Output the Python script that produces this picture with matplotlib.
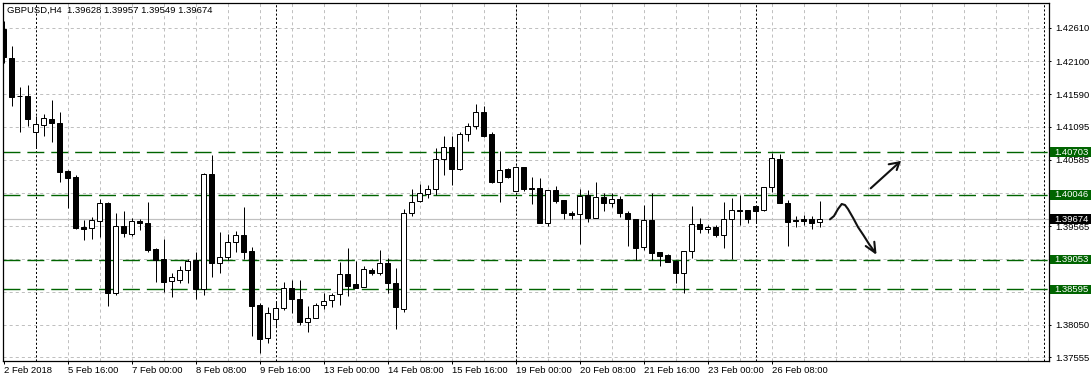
import matplotlib
matplotlib.use("Agg")
import matplotlib.pyplot as plt
import matplotlib.transforms as mtransforms
from matplotlib.patches import Rectangle

plt.rcParams['font.family'] = ['Liberation Sans', 'DejaVu Sans']
plt.rcParams['lines.scale_dashes'] = False

# ---------------- data (GBPUSD, H4) ----------------
opens = [1.42594, 1.42153, 1.41565, 1.41565, 1.41016, 1.41115, 1.41212, 1.41155, 1.40413, 1.40325,
         1.39552, 1.39532, 1.39649, 1.39926, 1.38533, 1.39568, 1.39440, 1.39644, 1.39618, 1.39214,
         1.39061, 1.38722, 1.38738, 1.38891, 1.39045, 1.38595, 1.40367, 1.38994, 1.39087, 1.39317,
         1.39429, 1.39183, 1.38349, 1.37842, 1.38134, 1.38303, 1.38610, 1.38446, 1.38097, 1.38149,
         1.38349, 1.38431, 1.38518, 1.38825, 1.38676, 1.38626, 1.38891, 1.38841, 1.38994, 1.38687,
         1.38288, 1.39763, 1.39952, 1.40055, 1.40131, 1.40592, 1.40777, 1.40448, 1.40981, 1.41104,
         1.41315, 1.40981, 1.40248, 1.40439, 1.40110, 1.40479, 1.40147, 1.40147, 1.39618, 1.40121,
         1.39967, 1.39763, 1.39747, 1.40039, 1.39695, 1.40009, 1.39926, 1.39978, 1.39763, 1.39671,
         1.39240, 1.39660, 1.39163, 1.39117, 1.39034, 1.38850, 1.39188, 1.39594, 1.39517, 1.39548,
         1.39425, 1.39671, 1.39809, 1.39809, 1.39870, 1.39809, 1.40171, 1.40592, 1.39916, 1.39660,
         1.39671, 1.39671, 1.39628]
highs = [1.42717, 1.42338, 1.41699, 1.41734, 1.41258, 1.41288, 1.41504, 1.41315, 1.40428, 1.40351,
         1.39660, 1.39710, 1.39982, 1.39941, 1.39763, 1.39798, 1.39686, 1.39671, 1.39941, 1.39225,
         1.39368, 1.38841, 1.38953, 1.39061, 1.39173, 1.40377, 1.40658, 1.39480, 1.39445, 1.39491,
         1.39855, 1.39250, 1.38389, 1.38328, 1.38395, 1.38712, 1.38738, 1.38738, 1.38338, 1.38389,
         1.38533, 1.38533, 1.39019, 1.39225, 1.39034, 1.38953, 1.38918, 1.39199, 1.39071, 1.38918,
         1.39824, 1.40136, 1.40213, 1.40198, 1.40761, 1.40950, 1.40950, 1.41016, 1.41146, 1.41442,
         1.41411, 1.41016, 1.40720, 1.40454, 1.40489, 1.40479, 1.40316, 1.40305, 1.40121, 1.40182,
         1.39967, 1.39803, 1.40131, 1.40121, 1.40248, 1.40070, 1.40070, 1.40029, 1.39798, 1.39680,
         1.39890, 1.40070, 1.39168, 1.39133, 1.39045, 1.39183, 1.39875, 1.39686, 1.39583, 1.39583,
         1.39932, 1.39993, 1.40044, 1.39809, 1.39870, 1.40171, 1.40685, 1.40674, 1.39967, 1.39721,
         1.39737, 1.39721, 1.39957]
lows = [1.42072, 1.41411, 1.41016, 1.41104, 1.40761, 1.40950, 1.40863, 1.40248, 1.39844, 1.39521,
        1.39352, 1.39363, 1.39394, 1.38338, 1.38507, 1.39394, 1.39414, 1.39506, 1.39173, 1.38712,
        1.38558, 1.38472, 1.38687, 1.38696, 1.38441, 1.38507, 1.38779, 1.38850, 1.39045, 1.39173,
        1.39061, 1.37882, 1.37621, 1.37765, 1.38020, 1.38277, 1.38226, 1.38046, 1.37943, 1.38149,
        1.38297, 1.38318, 1.38354, 1.38497, 1.38623, 1.38626, 1.38810, 1.38815, 1.38533, 1.37980,
        1.38251, 1.39721, 1.39941, 1.39993, 1.40044, 1.40351, 1.40198, 1.40428, 1.40878, 1.41053,
        1.40935, 1.40233, 1.39941, 1.40300, 1.40110, 1.40105, 1.39906, 1.39609, 1.39568, 1.39926,
        1.39675, 1.39671, 1.39291, 1.39634, 1.39686, 1.39803, 1.39855, 1.39710, 1.39265, 1.39045,
        1.39199, 1.39045, 1.38953, 1.39019, 1.38687, 1.38543, 1.39080, 1.39455, 1.39455, 1.39394,
        1.39225, 1.39056, 1.39583, 1.39609, 1.39618, 1.39798, 1.40095, 1.39916, 1.39260, 1.39548,
        1.39583, 1.39517, 1.39549]
closes = [1.42164, 1.41554, 1.41560, 1.41207, 1.41130, 1.41232, 1.41146, 1.40402, 1.40310, 1.39541,
          1.39526, 1.39660, 1.39916, 1.38543, 1.39568, 1.39465, 1.39644, 1.39609, 1.39199, 1.39045,
          1.38712, 1.38789, 1.38891, 1.39034, 1.38595, 1.40367, 1.38994, 1.39087, 1.39317, 1.39429,
          1.39173, 1.38338, 1.37836, 1.38226, 1.38303, 1.38610, 1.38441, 1.38097, 1.38149, 1.38349,
          1.38420, 1.38503, 1.38825, 1.38650, 1.38623, 1.38902, 1.38841, 1.38994, 1.38687, 1.38318,
          1.39763, 1.39941, 1.40070, 1.40131, 1.40592, 1.40777, 1.40448, 1.40981, 1.41104, 1.41315,
          1.40955, 1.40248, 1.40423, 1.40316, 1.40469, 1.40136, 1.40140, 1.39609, 1.40121, 1.39956,
          1.39763, 1.39741, 1.40029, 1.39695, 1.40009, 1.39926, 1.39978, 1.39763, 1.39671, 1.39234,
          1.39660, 1.39157, 1.39111, 1.39019, 1.38850, 1.39179, 1.39594, 1.39529, 1.39548, 1.39425,
          1.39671, 1.39809, 1.39805, 1.39671, 1.39793, 1.40171, 1.40608, 1.39916, 1.39634, 1.39640,
          1.39649, 1.39618, 1.39674]

xtick_bars = [0, 8, 16, 24, 32, 40, 48, 56, 64, 72, 80, 88, 96]
xtick_labels = ["2 Feb 2018", "5 Feb 16:00", "7 Feb 00:00", "8 Feb 08:00", "9 Feb 16:00",
                "13 Feb 00:00", "14 Feb 08:00", "15 Feb 16:00", "19 Feb 00:00", "20 Feb 08:00",
                "21 Feb 16:00", "23 Feb 00:00", "26 Feb 08:00"]
week_separators = [4, 34, 64, 94, 130]
ygrid_values = [1.42610, 1.42100, 1.41590, 1.41095, 1.40585, 1.40075, 1.39565, 1.39060,
                1.38560, 1.38050, 1.37555]
ytick_labels = ["1.42610", "1.42100", "1.41590", "1.41095", "1.40585", "", "1.39565", "",
                "", "1.38050", "1.37555"]
level_lines = [1.40703, 1.40046, 1.39053, 1.38595]
bid_price = 1.39674
header = "GBPUSD,H4  1.39628 1.39957 1.39549 1.39674"

# hand-drawn annotation strokes (bar index, price)
down_curve_x = [103.31, 103.81, 104.31, 104.78, 105.19, 105.56, 106.23, 106.81, 107.48, 108.19, 108.98]
down_curve_p = [1.39670, 1.39721, 1.39829, 1.39906, 1.39890, 1.39829, 1.39686, 1.39552, 1.39429, 1.39291, 1.39157]
down_head_x = [107.78, 108.98, 108.85]
down_head_p = [1.39260, 1.39157, 1.39326]
up_line_x = [108.40, 111.98]
up_line_p = [1.40147, 1.40546]
up_head_x = [110.65, 111.98, 111.65]
up_head_p = [1.40516, 1.40546, 1.40428]

# ---------------- figure ----------------
W, H = 1091, 382
fig = plt.figure(figsize=(W / 100, H / 100), dpi=100)
fig.patch.set_facecolor('white')
ax = fig.add_axes([3 / W, 21 / H, 1046 / W, 358 / H])
ax.set_facecolor('white')

ax.set_xlim(-0.0625, 130.6875)
ax.set_ylim(1.37494, 1.42994)

FS = 6.8
GRID = '#c0c0c0'
GREEN = '#006400'
px = 0.72  # one pixel in points

# grid
for v in ygrid_values:
    ax.axhline(v, color=GRID, lw=px, linestyle=(0, (2.2, 2.2)), zorder=0.5)
for b in range(8, 129, 4):
    ax.axvline(b, color=GRID, lw=px, linestyle=(0, (2.2, 2.2)), zorder=0.5)
for b in week_separators:
    ax.axvline(b, color='black', lw=px, linestyle=(0, (1.5, 1.5)), zorder=0.6)

# bid line and levels
ax.axhline(bid_price, color='#c0c0c0', lw=px * 1.2, zorder=0.8)
for v in level_lines:
    ax.axhline(v, color=GREEN, lw=1.0, linestyle=(0, (12.2, 5.0)), zorder=1)

# candles
for i, (o, h, l, c) in enumerate(zip(opens, highs, lows, closes)):
    ax.vlines(i, l, h, color='black', lw=px, zorder=3)
    bull = c > o
    ax.bar(i, abs(c - o), bottom=min(o, c), width=0.625,
           facecolor='white' if bull else 'black', edgecolor='black',
           linewidth=px, zorder=4)

# annotations
ax.plot(down_curve_x, down_curve_p, color='#111111', lw=1.5, solid_capstyle='round',
        solid_joinstyle='round', zorder=6)
ax.plot(down_head_x, down_head_p, color='#111111', lw=1.5, solid_capstyle='round',
        solid_joinstyle='miter', zorder=6)
ax.plot(up_line_x, up_line_p, color='#111111', lw=1.5, solid_capstyle='round', zorder=6)
ax.plot(up_head_x, up_head_p, color='#111111', lw=1.5, solid_capstyle='round',
        solid_joinstyle='miter', zorder=6)

# axes styling
for s in ax.spines.values():
    s.set_color('black')
    s.set_linewidth(0.9)
    s.set_zorder(7)

ax.yaxis.tick_right()
ax.set_yticks(ygrid_values)
ax.set_yticklabels(ytick_labels)
ax.tick_params(axis='y', direction='out', length=1.6, width=px, pad=2.6,
               labelsize=FS, colors='black')

ax.set_xticks(xtick_bars)
ax.set_xticklabels(xtick_labels, ha='left')
ax.tick_params(axis='x', direction='out', length=2.2, width=px, pad=1.6,
               labelsize=FS, colors='black')

# price boxes on the right axis
trans = mtransforms.blended_transform_factory(ax.transAxes, ax.transData)
half = 0.00072
x0 = 1.0 + 1 / 1046
wbox = 41 / 1046
xt = 1.0 + 5 / 1046
for v in level_lines:
    ax.add_patch(Rectangle((x0, v - half), wbox, 2 * half, transform=trans,
                           facecolor='#006400', edgecolor='none', clip_on=False, zorder=10))
    ax.text(xt, v, f"{v:.5f}", transform=trans, color='white', fontsize=FS,
            va='center', ha='left', zorder=11, clip_on=False)
ax.add_patch(Rectangle((x0, bid_price - half), wbox, 2 * half, transform=trans,
                       facecolor='black', edgecolor='none', clip_on=False, zorder=10))
ax.text(xt, bid_price, f"{bid_price:.5f}", transform=trans, color='white', fontsize=FS,
        va='center', ha='left', zorder=11, clip_on=False)

fig.text(7 / W, 1 - 10.5 / H, header, fontsize=FS, color='black', va='center', ha='left')

fig.savefig('out.png', dpi=100, facecolor='white')
